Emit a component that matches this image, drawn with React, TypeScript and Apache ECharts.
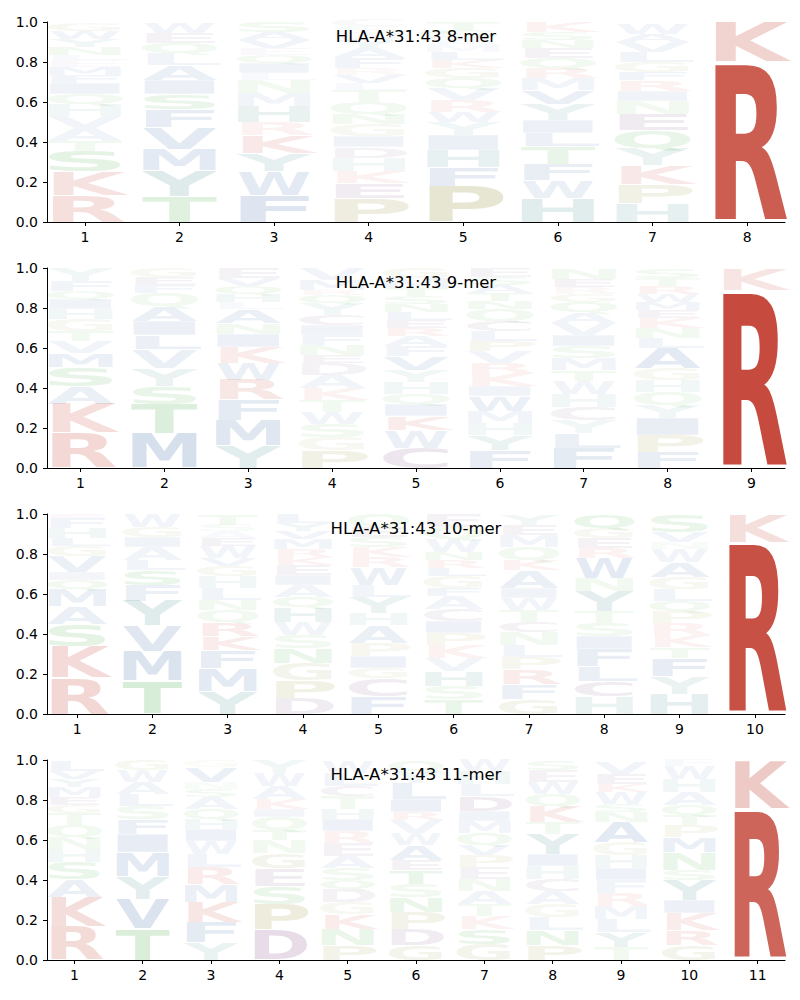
import React, { useEffect, useRef } from "react";
import * as echarts from "echarts";

const TITLES = ["HLA-A*31:43 8-mer", "HLA-A*31:43 9-mer", "HLA-A*31:43 10-mer", "HLA-A*31:43 11-mer"];
const Y_TICKS = [0, 0.2, 0.4, 0.6, 0.8, 1.0];

// Each position: letters from bottom to top with their probability height
const MER8 = [
  "R:.135 K:.12 S:.10 T:.05 A:.065 V:.06 H:.06 Q:.05 I:.055 F:.04 M:.04 E:.035 L:.025 N:.04 Y:.04 W:.04 G:.04",
  "T:.125 Y:.13 M:.11 V:.11 F:.09 S:.075 I:.07 A:.075 L:.06 Q:.05 E:.05 W:.055",
  "F:.135 W:.12 Y:.09 K:.09 R:.065 H:.08 M:.065 N:.065 L:.035 I:.05 Q:.04 E:.035 V:.04 A:.04 S:.05",
  "P:.12 E:.075 K:.06 H:.065 D:.055 I:.055 G:.06 N:.05 Q:.06 T:.06 L:.035 V:.04 R:.035 F:.05 A:.05 Y:.04 W:.035 S:.035 C:.03",
  "P:.18 F:.095 H:.085 I:.075 Y:.065 W:.05 R:.06 V:.06 Q:.05 G:.05 K:.04 L:.04 M:.035 A:.035 S:.04 T:.04",
  "H:.12 W:.09 F:.08 T:.09 L:.065 I:.065 Y:.08 V:.07 M:.06 R:.05 Q:.05 E:.05 N:.04 S:.04 K:.05",
  "H:.095 P:.095 K:.095 Y:.085 Q:.09 E:.08 N:.065 I:.05 R:.055 F:.04 G:.05 L:.05 V:.05 A:.04 W:.055",
  "R:.80 K:.20",
];
const MER9 = [
  "R:.175 K:.145 A:.09 S:.095 M:.07 V:.06 T:.05 G:.06 H:.05 I:.05 Q:.04 F:.05 Y:.065",
  "M:.175 T:.145 S:.09 Y:.09 V:.095 L:.07 I:.07 A:.075 Q:.065 F:.04 E:.04 G:.045",
  "Y:.115 M:.125 F:.1 R:.1 W:.085 K:.08 I:.065 N:.055 A:.07 L:.035 H:.04 Q:.04 V:.04 E:.05",
  "P:.09 G:.065 S:.065 W:.06 T:.06 K:.06 A:.065 D:.06 E:.04 N:.05 F:.05 I:.05 C:.05 Y:.06 Q:.04 R:.025 M:.05 V:.06",
  "C:.1 W:.09 K:.07 I:.06 Q:.05 H:.06 Y:.06 V:.07 F:.05 A:.05 R:.04 E:.04 L:.04 N:.04 S:.04 T:.04 M:.05 G:.05",
  "F:.09 Y:.075 H:.06 M:.06 W:.075 I:.05 K:.065 R:.05 V:.06 P:.05 L:.05 C:.05 Q:.06 N:.04 T:.04 A:.04 S:.04 E:.045",
  "F:.1 L:.075 Y:.065 C:.065 H:.065 W:.065 T:.055 M:.06 S:.06 I:.055 V:.06 A:.055 Q:.05 G:.04 R:.035 E:.04 N:.05",
  "F:.08 P:.085 I:.085 Y:.065 Q:.065 H:.06 G:.06 A:.1 L:.05 N:.05 K:.05 E:.04 M:.04 W:.04 R:.04 T:.04 S:.045",
  "R:.89 K:.11",
];
const MER10 = [
  "R:.18 K:.16 S:.11 A:.09 M:.085 Q:.045 I:.04 V:.08 G:.05 L:.04 H:.05 F:.05 E:.02",
  "T:.165 M:.15 V:.125 Y:.125 F:.08 S:.075 L:.05 A:.065 I:.05 G:.05 W:.065",
  "Y:.115 M:.115 F:.09 K:.07 R:.07 Q:.06 N:.05 L:.06 H:.06 G:.05 V:.04 W:.06 E:.04 A:.035 S:.03 T:.055",
  "D:.08 P:.09 G:.085 N:.075 S:.065 W:.065 H:.075 Q:.05 A:.06 I:.05 E:.05 K:.04 R:.04 M:.05 V:.04 Y:.04 L:.045",
  "F:.09 C:.09 G:.05 I:.06 P:.065 A:.09 H:.06 Y:.08 L:.06 W:.09 R:.05 K:.05 S:.05 E:.05 Q:.065",
  "T:.075 S:.065 H:.075 V:.065 K:.065 P:.06 I:.06 C:.06 A:.065 F:.04 G:.06 L:.04 R:.04 N:.04 W:.065 Q:.06 E:.065",
  "G:.075 F:.075 R:.075 P:.06 L:.06 N:.065 C:.05 T:.06 W:.06 I:.05 A:.09 K:.05 Q:.065 M:.06 E:.05 Y:.055",
  "H:.09 C:.075 L:.075 F:.085 I:.065 S:.065 T:.06 Y:.1 N:.065 W:.1 R:.05 E:.05 G:.05 Q:.07",
  "H:.1 Y:.09 F:.09 T:.055 K:.06 R:.06 P:.06 Q:.05 L:.06 G:.06 A:.075 W:.065 N:.035 V:.05 S:.085",
  "R:.86 K:.14",
];
const MER11 = [
  "R:.165 K:.15 A:.09 S:.085 H:.065 N:.06 Q:.06 T:.06 G:.04 E:.04 M:.05 Y:.04 V:.04 L:.055",
  "T:.155 V:.15 Y:.115 M:.12 I:.09 F:.075 S:.065 L:.06 A:.06 W:.06 G:.05",
  "Y:.09 F:.1 K:.1 M:.09 R:.085 L:.065 W:.065 I:.06 H:.05 Q:.05 A:.06 S:.04 N:.035 V:.075 G:.035",
  "D:.15 P:.13 S:.09 E:.09 G:.075 N:.065 T:.05 Q:.065 I:.04 K:.05 A:.065 W:.065 Y:.065",
  "P:.075 N:.08 K:.075 G:.06 D:.065 Q:.045 S:.06 A:.06 E:.065 R:.06 I:.06 H:.05 T:.065 C:.05 L:.065 W:.06",
  "G:.075 D:.08 P:.085 N:.075 S:.065 T:.07 E:.05 A:.075 W:.06 V:.065 R:.04 I:.065 L:.08 Y:.06 Q:.05",
  "G:.08 S:.075 K:.065 T:.06 A:.065 N:.06 E:.06 P:.06 V:.05 Q:.06 M:.06 I:.05 D:.075 L:.06 H:.065 W:.06",
  "P:.075 N:.075 L:.065 G:.065 A:.065 C:.06 H:.065 I:.06 Y:.1 T:.06 K:.08 Q:.06 W:.06 E:.06 S:.045",
  "T:.065 Y:.075 L:.065 M:.065 R:.065 F:.065 I:.06 H:.065 G:.065 A:.1 N:.05 S:.04 W:.06 K:.04 E:.05 V:.06",
  "G:.075 R:.075 K:.085 I:.065 Y:.1 S:.05 N:.09 M:.075 P:.06 T:.05 Q:.05 A:.065 H:.065 W:.065 F:.03",
  "R:.755 K:.245",
];
const PANELS = [MER8, MER9, MER10, MER11];

const GROUP_COLORS: Record<string, string> = {
  K: "#c0392b", R: "#c0392b",
  A: "#2c5aa0", V: "#2c5aa0", L: "#2c5aa0", I: "#2c5aa0", M: "#2c5aa0", F: "#2c5aa0", W: "#2c5aa0",
  S: "#2ca02c", T: "#2ca02c", N: "#2ca02c", Q: "#2ca02c",
  H: "#287878", Y: "#287878",
  P: "#87821e", G: "#7f9433",
  D: "#6e3278", E: "#6e3278", C: "#6e3278",
};

// approximate ink width / em of DejaVu Sans Bold capitals
const INK: Record<string, number> = {
  A: 0.76, C: 0.63, D: 0.70, E: 0.56, F: 0.55, G: 0.70, H: 0.67, I: 0.20, K: 0.70, L: 0.52,
  M: 0.83, N: 0.67, P: 0.60, Q: 0.73, R: 0.68, S: 0.60, T: 0.67, V: 0.77, W: 1.09, Y: 0.73,
};
const CAP = 0.729;
const FS = 100;

function rgba(hex: string, a: number) {
  const r = parseInt(hex.slice(1, 3), 16), g = parseInt(hex.slice(3, 5), 16), b = parseInt(hex.slice(5, 7), 16);
  return `rgba(${r},${g},${b},${a})`;
}

type Item = { x: number; y0: number; y1: number; l: string };

function buildItems(panel: string[]): Item[] {
  const out: Item[] = [];
  panel.forEach((col, i) => {
    let acc = 0;
    col.split(" ").forEach((tok) => {
      const [l, v] = tok.split(":");
      const h = parseFloat(v);
      out.push({ x: i + 1, y0: acc, y1: acc + h, l });
      acc += h;
    });
  });
  return out;
}

export default function App() {
  const ref = useRef<HTMLDivElement>(null);
  useEffect(() => {
    if (!ref.current) return;
    const chart = echarts.init(ref.current, undefined, { renderer: "svg" });
    const grids: any[] = [], xAxes: any[] = [], yAxes: any[] = [], series: any[] = [], graphics: any[] = [];
    const font = "DejaVu Sans";
    PANELS.forEach((panel, p) => {
      const L = panel.length;
      const top = 22 + 246 * p;
      grids.push({ left: 47, right: 15, top, height: 200 });
      const ticks = panel.map((_, i) => i + 1);
      xAxes.push({
        gridIndex: p, type: "value", min: 0.6, max: L + 0.4,
        axisLine: { show: true, onZero: false, lineStyle: { color: "#000", width: 1 } },
        axisTick: { show: true, customValues: ticks, length: 4, lineStyle: { color: "#000" } },
        axisLabel: { customValues: ticks, color: "#000", fontSize: 14, fontFamily: font, margin: 8, formatter: (v: number) => String(v) },
        splitLine: { show: false },
      });
      yAxes.push({
        gridIndex: p, type: "value", min: 0, max: 1, interval: 0.2,
        axisLine: { show: true, onZero: false, lineStyle: { color: "#000", width: 1 } },
        axisTick: { show: true, length: 4, lineStyle: { color: "#000" } },
        axisLabel: { color: "#000", fontSize: 14, fontFamily: font, margin: 9, formatter: (v: number) => v.toFixed(1) },
        splitLine: { show: false },
      });
      const items = buildItems(panel);
      series.push({
        type: "custom", xAxisIndex: p, yAxisIndex: p, silent: true, clip: false,
        data: items.map((it) => [it.x, it.y0, it.y1]),
        encode: { x: 0, y: [1, 2] },
        renderItem: (params: any, api: any) => {
          const it = items[params.dataIndex];
          const bl = api.coord([it.x - 0.39, it.y0]);
          const tr = api.coord([it.x + 0.39, it.y1]);
          const w = tr[0] - bl[0];
          const h = bl[1] - tr[1];
          const gh = h * 0.96;
          const a = Math.min(1, 0.02 + (it.y1 - it.y0));
          return {
            type: "text",
            x: (bl[0] + tr[0]) / 2,
            y: (bl[1] + tr[1]) / 2,
            scaleX: w / ((INK[it.l] || 0.7) * FS),
            scaleY: gh / (CAP * FS),
            silent: true,
            style: {
              text: it.l, x: 0, y: 0.02 * FS,
              font: `bold ${FS}px "${font}"`,
              fill: rgba(GROUP_COLORS[it.l] || "#888888", a),
              align: "center", verticalAlign: "middle",
              textAlign: "center", textVerticalAlign: "middle",
            },
          };
        },
      });
      graphics.push({
        type: "text", x: 416, y: top + 14, z: 100,
        style: { text: TITLES[p], font: `16.5px "${font}"`, fill: "#000", align: "center", verticalAlign: "middle", textAlign: "center", textVerticalAlign: "middle" },
      });
    });
    chart.setOption({
      animation: false,
      backgroundColor: "#fff",
      grid: grids, xAxis: xAxes, yAxis: yAxes, series, graphic: graphics,
    });
    return () => chart.dispose();
  }, []);
  return <div ref={ref} style={{ position: "absolute", left: 0, top: 0, width: 800, height: 1000 }} />;
}
